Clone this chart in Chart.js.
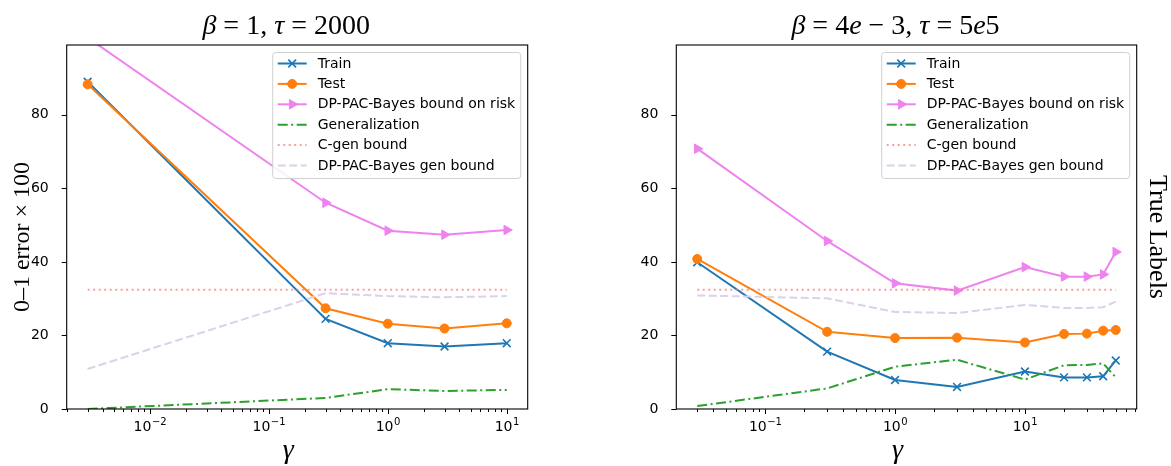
<!DOCTYPE html>
<html>
<head>
<meta charset="utf-8">
<script src="https://cdn.jsdelivr.net/npm/chart.js@4.4.1/dist/chart.umd.min.js"></script>
<style>
    body { margin: 0; background: #fff; }
    #wrap { position: relative; width: 1171px; height: 466px; }
    canvas { position: absolute; top: 0; }
</style>
</head>
<body>
<div id="wrap">
    <canvas id="leftChart" width="585" height="466" style="left:0"></canvas>
    <canvas id="rightChart" width="586" height="466" style="left:585px"></canvas>
</div>
<script>
// left panel: beta = 1, tau = 2000
const gammaLeft = [0.003, 0.3, 1, 3, 10];
const trainLeft = [89.0, 24.5, 17.9, 17.0, 17.9];
const testLeft = [88.3, 27.4, 23.2, 21.9, 23.3];
const riskBoundLeft = [101.0, 56.1, 48.5, 47.4, 48.7];
const genLeft = [0.0, 3.0, 5.4, 4.9, 5.2];
const cgenLeft = [32.4, 32.4, 32.4, 32.4, 32.4];
const genBoundLeft = [10.9, 31.5, 30.7, 30.4, 30.7];

// right panel: beta = 4e-3, tau = 5e5
const gammaRight = [0.03, 0.3, 1, 3, 10, 20, 30, 40, 50];
const trainRight = [39.9, 15.6, 7.9, 6.0, 10.2, 8.6, 8.6, 8.9, 13.2];
const testRight = [40.8, 21.0, 19.3, 19.4, 18.1, 20.4, 20.5, 21.3, 21.5];
const riskBoundRight = [70.8, 45.7, 34.2, 32.2, 38.6, 36.0, 36.0, 36.6, 42.7];
const genRight = [0.8, 5.6, 11.5, 13.4, 8.0, 11.9, 12.0, 12.4, 8.6];
const cgenRight = [32.4, 32.4, 32.4, 32.4, 32.4, 32.4, 32.4, 32.4, 32.4];
const genBoundRight = [30.9, 30.1, 26.4, 26.1, 28.3, 27.5, 27.5, 27.7, 29.2];

const seriesLabels = ["Train", "Test", "DP-PAC-Bayes bound on risk", "Generalization", "C-gen bound", "DP-PAC-Bayes gen bound"];
const yTicks = [0, 20, 40, 60, 80];

const sansFont = '"DejaVu Sans", sans-serif';
const serifFont = '"Liberation Serif", "DejaVu Serif", serif';

function pts(xs, ys) {
    return xs.map((x, i) => ({ x: x, y: ys[i] }));
}

function buildDatasets(xs, train, test, risk, gen, cgen, genBound) {
    return [
        { label: seriesLabels[0], data: pts(xs, train), borderColor: "#1f77b4", backgroundColor: "#1f77b4",
          pointStyle: "crossRot", pointRadius: 5.5, pointBorderWidth: 1.6, order: 6 },
        { label: seriesLabels[1], data: pts(xs, test), borderColor: "#ff7f0e", backgroundColor: "#ff7f0e",
          pointStyle: "circle", pointRadius: 4.5, pointBorderWidth: 1, order: 5 },
        { label: seriesLabels[2], data: pts(xs, risk), borderColor: "#ee82ee", backgroundColor: "#ee82ee",
          pointStyle: "triangle", rotation: 90, pointRadius: 5.5, pointBorderWidth: 1, order: 4 },
        { label: seriesLabels[3], data: pts(xs, gen), borderColor: "#2ca02c", borderDash: [10, 3.5, 2, 3.5],
          pointRadius: 0, order: 3 },
        { label: seriesLabels[4], data: pts(xs, cgen), borderColor: "rgba(240,128,128,0.75)", borderDash: [2, 3.5],
          pointRadius: 0, order: 2 },
        { label: seriesLabels[5], data: pts(xs, genBound), borderColor: "#dcd0ea", borderDash: [8, 3.5],
          pointRadius: 0, order: 1 },
    ];
}

function logTicks(scale) {
    let out = [];
    let lo = Math.floor(Math.log10(scale.min));
    let hi = Math.ceil(Math.log10(scale.max));
    for (let n = lo; n <= hi; n++) {
        for (let k = 1; k <= 9; k++) {
            let v = k * Math.pow(10, n);
            if (v >= scale.min && v <= scale.max) out.push({ value: v, major: k === 1, exp: n });
        }
    }
    scale.ticks = out;
}

// frame box + outward ticks + 10^n labels like matplotlib
const framePlugin = {
    id: "frame",
    afterDraw(chart) {
        const ctx = chart.ctx;
        const a = chart.chartArea;
        const xs = chart.scales.x, ys = chart.scales.y;
        ctx.save();
        ctx.strokeStyle = "#000";
        ctx.lineWidth = 1.1;
        ctx.strokeRect(a.left, a.top, a.right - a.left, a.bottom - a.top);
        ctx.lineWidth = 1;
        ctx.beginPath();
        xs.ticks.forEach(t => {
            let px = Math.round(xs.getPixelForValue(t.value)) + 0.5;
            ctx.moveTo(px, a.bottom);
            ctx.lineTo(px, a.bottom + (t.major ? 5 : 3));
        });
        ys.ticks.forEach(t => {
            let py = Math.round(ys.getPixelForValue(t.value)) + 0.5;
            ctx.moveTo(a.left, py);
            ctx.lineTo(a.left - 5, py);
        });
        ctx.stroke();

        ctx.fillStyle = "#000";
        ctx.textBaseline = "alphabetic";
        ctx.textAlign = "left";
        xs.ticks.filter(t => t.major).forEach(t => {
            let px = xs.getPixelForValue(t.value);
            let base = "10", sup = (t.exp < 0 ? "\u2212" : "") + Math.abs(t.exp);
            ctx.font = "14px " + sansFont;
            let wb = ctx.measureText(base).width;
            ctx.font = "10px " + sansFont;
            let ws = ctx.measureText(sup).width;
            let x0 = px - (wb + ws) / 2;
            ctx.font = "14px " + sansFont;
            ctx.fillText(base, x0, a.bottom + 22);
            ctx.font = "10px " + sansFont;
            ctx.fillText(sup, x0 + wb + 0.5, a.bottom + 16);
        });
        ctx.restore();
    },
};

// legend box inside the axes, upper right
const boxLegendPlugin = {
    id: "boxLegend",
    afterDatasetsDraw(chart) {
        const ctx = chart.ctx;
        const a = chart.chartArea;
        const w = 248, h = 126;
        const left = a.right - 7 - w, top = a.top + 7.5;
        ctx.save();
        ctx.fillStyle = "rgba(255,255,255,0.85)";
        ctx.strokeStyle = "#d0d0d0";
        ctx.lineWidth = 1;
        ctx.beginPath();
        ctx.roundRect(left, top, w, h, 3);
        ctx.fill();
        ctx.stroke();

        chart.data.datasets.forEach((ds, i) => {
            let y = top + 11 + i * 20.4;
            ctx.strokeStyle = ds.borderColor;
            ctx.lineWidth = 2;
            ctx.setLineDash(ds.borderDash || []);
            ctx.beginPath();
            ctx.moveTo(left + 5, y);
            ctx.lineTo(left + 34, y);
            ctx.stroke();
            ctx.setLineDash([]);
            if (ds.pointRadius > 0) {
                ctx.fillStyle = ds.backgroundColor;
                ctx.strokeStyle = ds.borderColor;
                ctx.lineWidth = ds.pointBorderWidth;
                Chart.helpers.drawPoint(ctx, {
                    pointStyle: ds.pointStyle, rotation: ds.rotation || 0,
                    radius: ds.pointRadius, borderWidth: ds.pointBorderWidth,
                }, left + 19.5, y);
            }
            ctx.fillStyle = "#000";
            ctx.font = "14px " + sansFont;
            ctx.textAlign = "left";
            ctx.textBaseline = "middle";
            ctx.fillText(ds.label, left + 45, y + 0.5);
        });
        ctx.restore();
    },
};

// titles and axis labels in serif / math italic
const textPlugin = {
    id: "texts",
    afterDraw(chart, args, opts) {
        const ctx = chart.ctx;
        const a = chart.chartArea;
        const cx = (a.left + a.right) / 2;
        ctx.save();
        ctx.fillStyle = "#000";
        ctx.textBaseline = "alphabetic";

        // title built from segments
        let segs = opts.title.map(s => ({ t: s[0], f: (s[1] ? "italic " : "") + "28px " + serifFont }));
        let total = 0;
        segs.forEach(s => { ctx.font = s.f; s.w = ctx.measureText(s.t).width; total += s.w; });
        let x = cx - 11 - total / 2;
        ctx.textAlign = "left";
        segs.forEach(s => { ctx.font = s.f; ctx.fillText(s.t, x, 34); x += s.w; });

        // x label
        ctx.font = "italic 28px " + serifFont;
        ctx.textAlign = "center";
        ctx.fillText("\u03B3", cx - 9, 458);

        if (opts.yLabel) {
            ctx.save();
            ctx.translate(28.5, 237);
            ctx.rotate(-Math.PI / 2);
            ctx.font = "24px " + serifFont;
            ctx.fillText(opts.yLabel, 0, 0);
            ctx.restore();
        }
        if (opts.sideLabel) {
            ctx.save();
            ctx.translate(opts.sideX, 237);
            ctx.rotate(Math.PI / 2);
            ctx.font = "26px " + serifFont;
            ctx.fillText(opts.sideLabel, 0, 0);
            ctx.restore();
        }
        ctx.restore();
    },
};

function makeChart(canvasId, datasets, xMin, xMax, yWidth, padRight, texts) {
    const ctx = document.getElementById(canvasId).getContext("2d");
    return new Chart(ctx, {
        type: "line",
        data: { datasets: datasets },
        options: {
            responsive: false,
            animation: false,
            elements: { line: { borderWidth: 2, tension: 0 } },
            layout: { padding: { left: 0, right: padRight, top: 45, bottom: 0 } },
            plugins: {
                legend: { display: false },
                tooltip: { enabled: false },
                texts: texts,
            },
            scales: {
                x: {
                    type: "logarithmic",
                    min: xMin,
                    max: xMax,
                    grid: { display: false },
                    border: { display: false },
                    afterBuildTicks: logTicks,
                    afterFit: s => { s.height = 57; },
                    ticks: { display: false },
                },
                y: {
                    min: 0,
                    max: 99,
                    grid: { display: false },
                    border: { display: false },
                    afterFit: s => { s.width = yWidth; },
                    afterBuildTicks: s => { s.ticks = yTicks.map(v => ({ value: v })); },
                    ticks: {
                        padding: 10,
                        color: "#000",
                        font: { family: sansFont, size: 14 },
                    },
                },
            },
        },
        plugins: [framePlugin, boxLegendPlugin, textPlugin],
    });
}

makeChart("leftChart",
    buildDatasets(gammaLeft, trainLeft, testLeft, riskBoundLeft, genLeft, cgenLeft, genBoundLeft),
    0.002, 15, 66.7, 57.3,
    {
        title: [["\u03B2", true], [" = 1, ", false], ["\u03C4", true], [" = 2000", false]],
        yLabel: "0\u20131 error \u00D7 100",
    });

makeChart("rightChart",
    buildDatasets(gammaRight, trainRight, testRight, riskBoundRight, genRight, cgenRight, genBoundRight),
    0.0207, 72.5, 91.3, 34.3,
    {
        title: [["\u03B2", true], [" = 4", false], ["e", true], [" \u2212 3, ", false], ["\u03C4", true], [" = 5", false], ["e", true], ["5", false]],
        sideLabel: "True Labels",
        sideX: 565,
    });
</script>
</body>
</html>
